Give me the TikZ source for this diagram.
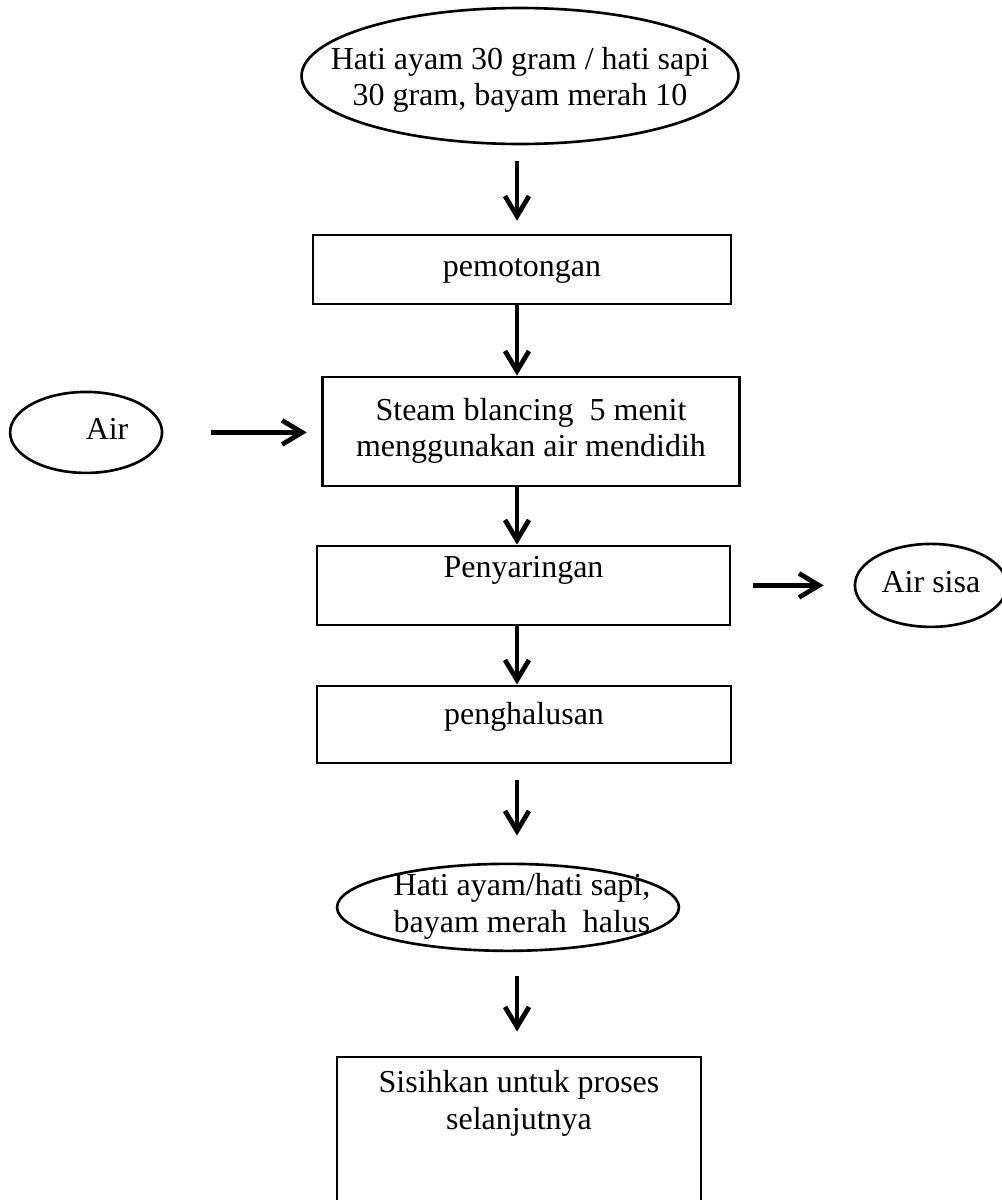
\documentclass[tikz,border=0pt]{standalone}
\usepackage{fontspec}
\setmainfont{Liberation Serif}
\usetikzlibrary{arrows.meta,shapes.geometric}

\begin{document}
\begin{tikzpicture}[x=0.02cm, y=-0.02cm, font=\fontsize{18.2pt}{21pt}\selectfont,
    >={Straight Barb[length=4mm, width=4.8mm]},
    proc/.style = {draw, rectangle, line width=1.5pt, inner sep=0pt, align=center, text height=4.4mm, text depth=1.4mm},
    oval/.style = {draw, ellipse, line width=1.5pt, inner sep=-3cm, align=center, text height=4.4mm, text depth=1.4mm},
    flow/.style = {->, line width=2.7pt}]
    \useasboundingbox (0,0) rectangle (1001,1200);
    \node[oval, minimum width=8.74cm, minimum height=2.72cm, text height=13.4mm] (1) at (520,76) {Hati ayam 30 gram / hati sapi\\30 gram, bayam merah 10};
    \node[proc, minimum width=8.36cm, minimum height=1.38cm] (2) [below of=1, node distance=3.87cm, xshift=0.04cm] {pemotongan};
    \node[proc, minimum width=8.34cm, minimum height=2.18cm, text height=11.6mm] (3) [below of=2, node distance=3.24cm, xshift=0.18cm] {Steam blancing~~5 menit\\menggunakan air mendidih};
    \node[oval, minimum width=3.04cm, minimum height=1.62cm] (4) [left of=3, node distance=8.9cm, yshift=-0.02cm] {\hspace*{8.4mm}Air};
    \node[proc, minimum width=8.26cm, minimum height=1.58cm, text depth=7.4mm] (5) [below of=3, node distance=3.08cm, xshift=-0.15cm] {Penyaringan};
    \node[oval, minimum width=3.04cm, minimum height=1.66cm] (6) [right of=5, node distance=8.15cm] {Air sisa};
    \node[proc, minimum width=8.28cm, minimum height=1.54cm, text depth=4.2mm] (7) [below of=5, node distance=2.78cm, xshift=0.01cm] {penghalusan};
    \node[oval, minimum width=6.84cm, minimum height=1.74cm, text height=11.6mm] (8) [below of=7, node distance=3.66cm, xshift=-0.32cm] {\hspace*{5.6mm}Hati ayam/hati sapi,\\\hspace*{5.6mm}bayam merah~~halus};
    \node[proc, minimum width=7.28cm, text height=14.6mm, text depth=22.6mm] (9) [below of=8, node distance=4.85cm, xshift=0.22cm] {Sisihkan untuk proses\\selanjutnya};
    \coordinate (s) at (517,0);
    \draw[flow, shorten <=3.2mm, shorten >=2.6mm] (s |- 1.south) -- (s |- 2.north);
    \draw[flow] (s |- 2.south) -- (s |- 3.north);
    \draw[flow, shorten <=9.6mm, shorten >=2.9mm] (4.east) -- (4.east -| 3.west);
    \draw[flow] (s |- 3.south) -- (s |- 5.north);
    \draw[flow, shorten <=4.4mm, shorten >=6mm] (5.east) -- (5.east -| 6.west);
    \draw[flow] (s |- 5.south) -- (s |- 7.north);
    \draw[flow, shorten <=3.2mm, shorten >=5.4mm] (s |- 7.south) -- (s |- 8.north);
    \draw[flow, shorten <=4.8mm, shorten >=4.8mm] (s |- 8.south) -- (s |- 9.north);
\end{tikzpicture}
\end{document}
